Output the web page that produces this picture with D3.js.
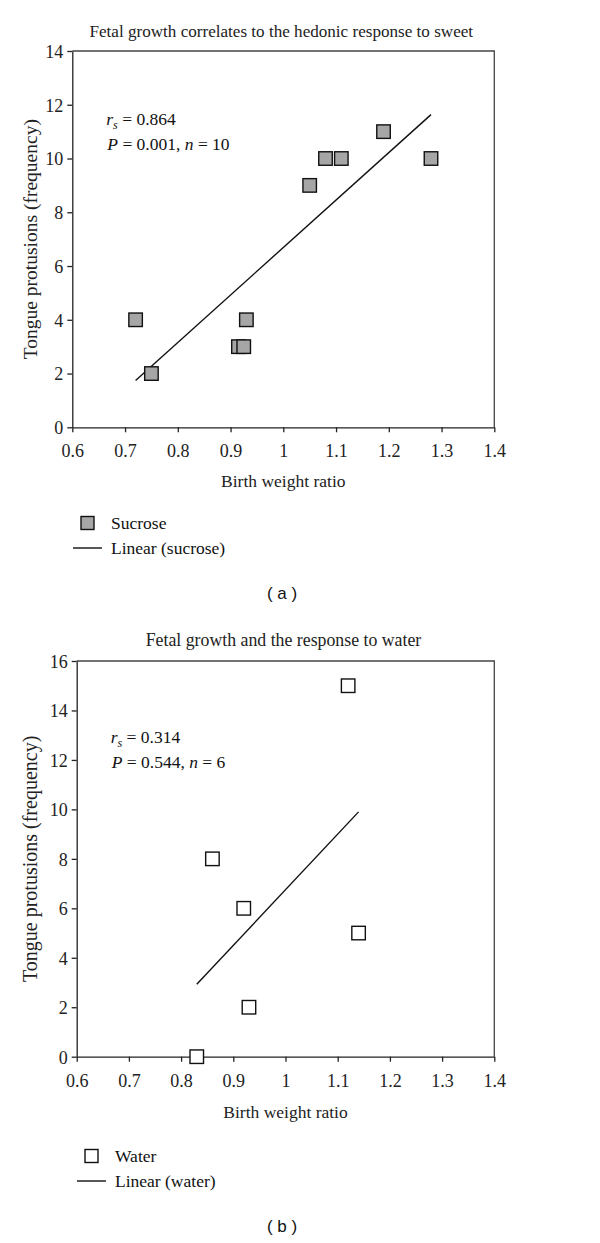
<!DOCTYPE html>
<html>
<head>
<meta charset="utf-8">
<script src="https://cdn.jsdelivr.net/npm/d3@7"></script>
<style>
  html, body { margin: 0; padding: 0; background: #fff; }
  svg { display: block; }
</style>
</head>
<body>
<svg id="chart" width="600" height="1243"></svg>
<script>
// ---- Data ----
const sucroseX = [0.72, 0.75, 0.915, 0.925, 0.93, 1.05, 1.08, 1.11, 1.19, 1.28];
const sucroseY = [4, 2, 3, 3, 4, 9, 10, 10, 11, 10];
const waterX = [0.83, 0.86, 0.92, 0.93, 1.12, 1.14];
const waterY = [0, 8, 6, 2, 15, 5];
const xTicks = [0.6, 0.7, 0.8, 0.9, 1, 1.1, 1.2, 1.3, 1.4];
const yTicksA = [0, 2, 4, 6, 8, 10, 12, 14];
const yTicksB = [0, 2, 4, 6, 8, 10, 12, 14, 16];
const titles = ["Fetal growth correlates to the hedonic response to sweet", "Fetal growth and the response to water"];
const statsA = ["0.864", "0.001", "10"];
const statsB = ["0.314", "0.544", "6"];
const legendA = ["Sucrose", "Linear (sucrose)"];
const legendB = ["Water", "Linear (water)"];
const xTitle = "Birth weight ratio";
const yTitle = "Tongue protusions (frequency)";

const serif = "'Liberation Serif', 'Times New Roman', serif";
const svg = d3.select("#chart");

function linFit(xs, ys) {
  const mx = d3.mean(xs), my = d3.mean(ys);
  let sxy = 0, sxx = 0;
  xs.forEach((x, i) => { sxy += (x - mx) * (ys[i] - my); sxx += (x - mx) * (x - mx); });
  const b = sxy / sxx;
  return x => my + b * (x - mx);
}

function panel(cfg) {
  const g = svg.append("g");
  const x = d3.scaleLinear().domain([0.6, 1.4]).range([cfg.left, cfg.right]);
  const y = d3.scaleLinear().domain([0, cfg.yMax]).range([cfg.bottom, cfg.top]);

  // frame (top & right)
  g.append("path")
    .attr("d", `M${cfg.left},${cfg.top}H${cfg.right}V${cfg.bottom}`)
    .attr("fill", "none").attr("stroke", "#444").attr("stroke-width", 1.3);

  const xa = g.append("g").attr("transform", `translate(0,${cfg.bottom})`)
    .call(d3.axisBottom(x).tickValues(xTicks).tickSize(5).tickSizeOuter(0).tickFormat(d3.format("~g")));
  const ya = g.append("g").attr("transform", `translate(${cfg.left},0)`)
    .call(d3.axisLeft(y).tickValues(cfg.yTicks).tickSize(5).tickSizeOuter(0));
  [xa, ya].forEach(a => {
    a.attr("font-family", null).attr("font-size", null);
    a.selectAll("path, line").attr("stroke", "#222").attr("stroke-width", 1.3);
    a.selectAll("text")
      .style("font-family", serif).style("font-size", "18px").attr("fill", "#222");
  });
  xa.selectAll("text").attr("dy", null).attr("y", 30);
  ya.selectAll("text").attr("x", -9).attr("dy", "0.35em");

  // titles
  g.append("text").attr("x", (cfg.left + cfg.right) / 2 - 2).attr("y", cfg.titleY)
    .attr("text-anchor", "middle").style("font-family", serif).style("font-size", cfg.titleSize + "px").attr("fill", "#222")
    .text(cfg.title);
  g.append("text").attr("x", (cfg.left + cfg.right) / 2).attr("y", cfg.xTitleY)
    .attr("text-anchor", "middle").style("font-family", serif).style("font-size", "17.5px").attr("fill", "#222")
    .text(xTitle);
  g.append("text").attr("transform", `translate(${cfg.yTitleX},${(cfg.top + cfg.bottom) / 2}) rotate(-90)`)
    .attr("text-anchor", "middle").style("font-family", serif).style("font-size", cfg.yTitleSize + "px").attr("fill", "#222")
    .text(yTitle);

  // trend line
  const f = linFit(cfg.xs, cfg.ys);
  const x0 = d3.min(cfg.xs), x1 = d3.max(cfg.xs);
  g.append("line").attr("x1", x(x0)).attr("y1", y(f(x0))).attr("x2", x(x1)).attr("y2", y(f(x1)))
    .attr("stroke", "#111").attr("stroke-width", 1.4);

  // points
  const s = 13.5;
  g.selectAll("rect.pt").data(cfg.xs.map((d, i) => [d, cfg.ys[i]])).join("rect")
    .attr("class", "pt")
    .attr("x", d => x(d[0]) - s / 2).attr("y", d => y(d[1]) - s / 2)
    .attr("width", s).attr("height", s)
    .attr("fill", cfg.fill).attr("stroke", "#111").attr("stroke-width", 1.4);

  // stats
  const st = g.append("g").style("font-family", serif).style("font-size", "17.5px").attr("fill", "#111");
  const t1 = st.append("text").attr("x", cfg.left + 34).attr("y", cfg.statY);
  t1.append("tspan").attr("font-style", "italic").text("r");
  t1.append("tspan").attr("font-style", "italic").style("font-size", "12px").attr("dy", 4).text("s");
  t1.append("tspan").attr("dy", -4).text(" = " + cfg.stats[0]);
  const t2 = st.append("text").attr("x", cfg.left + 35).attr("y", cfg.statY + 25);
  t2.append("tspan").attr("font-style", "italic").text("P");
  t2.append("tspan").text(" = " + cfg.stats[1] + ", ");
  t2.append("tspan").attr("font-style", "italic").text("n");
  t2.append("tspan").text(" = " + cfg.stats[2]);

  // legend
  const lg = g.append("g").style("font-family", serif).style("font-size", "17.5px").attr("fill", "#111");
  lg.append("rect").attr("x", cfg.legX + 8).attr("y", cfg.legY - 6.5).attr("width", 13).attr("height", 13)
    .attr("fill", cfg.fill).attr("stroke", "#111").attr("stroke-width", 1.4);
  lg.append("text").attr("x", cfg.legX + 38).attr("y", cfg.legY + 6).text(cfg.legend[0]);
  lg.append("line").attr("x1", cfg.legX).attr("x2", cfg.legX + 29)
    .attr("y1", cfg.legY + 25).attr("y2", cfg.legY + 25).attr("stroke", "#111").attr("stroke-width", 1.4);
  lg.append("text").attr("x", cfg.legX + 38).attr("y", cfg.legY + 31).text(cfg.legend[1]);

  // panel label
  g.append("text").attr("x", 282).attr("y", cfg.labelY).attr("text-anchor", "middle")
    .style("font-family", "'Liberation Sans', Arial, sans-serif").style("font-size", "17px").attr("fill", "#111")
    .text(cfg.label);
}

panel({
  left: 72.3, right: 494.3, top: 51, bottom: 427.3, yMax: 14, yTicks: yTicksA,
  xs: sucroseX, ys: sucroseY, fill: "#a6a6a6", title: titles[0], titleY: 37, titleSize: 17.1,
  xTitleY: 487, yTitleX: 37, yTitleSize: 19.5, stats: statsA, statY: 125, legend: legendA,
  legX: 73, legY: 523, label: "( a )", labelY: 599
});
panel({
  left: 76.7, right: 494.3, top: 661, bottom: 1056.7, yMax: 16, yTicks: yTicksB,
  xs: waterX, ys: waterY, fill: "#fff", title: titles[1], titleY: 646, titleSize: 17.8,
  xTitleY: 1118, yTitleX: 37, yTitleSize: 20, stats: statsB, statY: 743, legend: legendB,
  legX: 77, legY: 1156, label: "( b )", labelY: 1232
});
</script>
</body>
</html>
